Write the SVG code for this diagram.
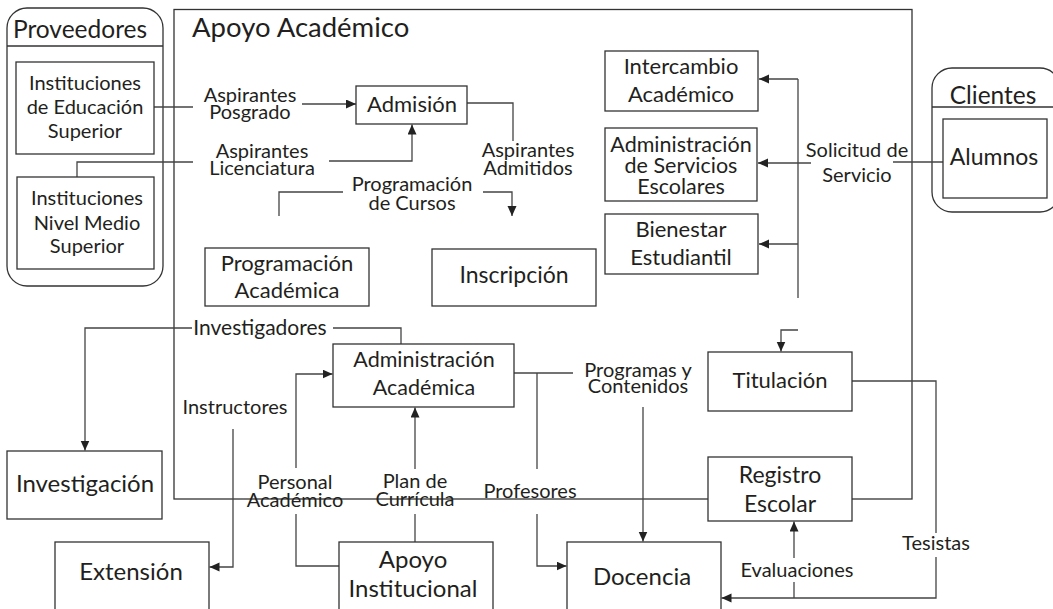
<svg xmlns="http://www.w3.org/2000/svg" width="1053" height="609" viewBox="0 0 1053 609">
<style>
  text { font-family: Lato, "Open Sans", "Liberation Sans", sans-serif; fill: #231f20; }
  .n { font-size: 20px; text-anchor: middle; }
  .n22 { font-size: 22px; text-anchor: middle; }
  .n23 { font-size: 23px; text-anchor: middle; }
  .nb { font-size: 24px; text-anchor: middle; }
  .l { font-size: 20px; text-anchor: middle; }
  .box { fill: #fff; stroke: #333; stroke-width: 1.3; }
  .pool { fill: none; stroke: #333; stroke-width: 1.3; }
  .c { fill: none; stroke: #444; stroke-width: 1.3; }
  .ca { fill: none; stroke: #444; stroke-width: 1.3; marker-end: url(#ah); }
</style>
<defs>
  <marker id="ah" markerUnits="userSpaceOnUse" markerWidth="11" markerHeight="10" refX="10" refY="4.5" orient="auto">
    <path d="M0,0 L10,4.5 L0,9 z" fill="#222"/>
  </marker>
</defs>
<rect width="1053" height="609" fill="#fff"/>

<g id="apoyo-academico">
  <rect class="pool" x="174" y="9.5" width="738" height="489.5"/>
  <text x="192" y="37" style="font-size:27.5px">Apoyo Académico</text>
</g>

<g id="proveedores">
  <rect class="pool" x="7" y="8" width="156" height="278" rx="20"/>
  <line class="pool" x1="7" y1="46" x2="163" y2="46"/>
  <text x="80" y="38" style="font-size:24.5px;text-anchor:middle">Proveedores</text>
</g>

<g id="clientes">
  <rect class="pool" x="932" y="68" width="128" height="144" rx="20"/>
  <line class="pool" x1="932" y1="107" x2="1053" y2="107"/>
  <text x="993" y="104" style="font-size:24.5px;text-anchor:middle">Clientes</text>
</g>

<g id="connectors">
  <!-- Aspirantes Posgrado -->
  <line class="c" x1="154" y1="107" x2="193" y2="107"/>
  <line class="ca" x1="302" y1="104" x2="356" y2="104"/>
  <!-- Aspirantes Licenciatura -->
  <polyline class="c" points="77,177 77,162 193,162"/>
  <polyline class="ca" points="329,161 412,161 412,124.5"/>
  <!-- Aspirantes Admitidos -->
  <polyline class="c" points="467,103 513,103 513,141"/>
  <!-- Programacion de Cursos -->
  <polyline class="c" points="279,216 279,192 343,192"/>
  <polyline class="ca" points="483,192 512,192 512,216"/>
  <!-- Solicitud de Servicio -->
  <line class="c" x1="798" y1="79" x2="798" y2="298"/>
  <line class="ca" x1="798" y1="79" x2="759" y2="79"/>
  <line class="ca" x1="811" y1="163" x2="758" y2="163"/>
  <line class="ca" x1="798" y1="244" x2="759" y2="244"/>
  <line class="c" x1="893" y1="162" x2="943" y2="162"/>
  <!-- Titulacion hook -->
  <polyline class="ca" points="798,330 781,330 781,351.5"/>
  <!-- Investigadores -->
  <polyline class="ca" points="192,328 85,328 85,450.5"/>
  <polyline class="c" points="333,328 401,328 401,344"/>
  <!-- Instructores -->
  <polyline class="ca" points="233,429 233,567 209.5,567"/>
  <!-- Personal Academico -->
  <polyline class="ca" points="296,468 296,374 332.5,374"/>
  <polyline class="c" points="296,514 296,566 339,566"/>
  <!-- Plan de Curricula -->
  <line class="ca" x1="415" y1="469" x2="415" y2="407.5"/>
  <line class="c" x1="415" y1="514" x2="415" y2="542"/>
  <!-- Programas y Contenidos / Profesores -->
  <line class="c" x1="514" y1="373" x2="573" y2="373"/>
  <line class="c" x1="537" y1="373" x2="537" y2="469"/>
  <polyline class="ca" points="537,514 537,566 566.5,566"/>
  <line class="ca" x1="643" y1="407" x2="643" y2="541.5"/>
  <!-- Tesistas -->
  <polyline class="c" points="852,381 936,381 936,533"/>
  <polyline class="ca" points="936,557 936,598 721.5,598"/>
  <!-- Evaluaciones -->
  <line class="ca" x1="794" y1="558" x2="794" y2="521.5"/>
  <line class="c" x1="794" y1="582" x2="794" y2="598"/>
</g>

<g id="instituciones-educacion-superior">
  <rect class="box" x="16" y="62" width="138" height="92"/>
  <text class="n" x="85" y="90">Instituciones</text>
  <text class="n" x="85" y="114">de Educación</text>
  <text class="n" x="85" y="138">Superior</text>
</g>

<g id="instituciones-nivel-medio-superior">
  <rect class="box" x="17" y="177" width="137" height="92"/>
  <text class="n" x="87" y="205">Instituciones</text>
  <text class="n" x="87" y="230">Nivel Medio</text>
  <text class="n" x="87" y="253">Superior</text>
</g>

<g id="admision">
  <rect class="box" x="356" y="86" width="111" height="38"/>
  <text class="n22" x="412" y="112">Admisión</text>
</g>

<g id="programacion-academica">
  <rect class="box" x="205" y="248" width="164" height="58"/>
  <text class="n22" x="287" y="271">Programación</text>
  <text class="n22" x="287" y="298">Académica</text>
</g>

<g id="inscripcion">
  <rect class="box" x="432" y="249" width="164" height="57"/>
  <text class="n23" x="514" y="283">Inscripción</text>
</g>

<g id="intercambio-academico">
  <rect class="box" x="605" y="51" width="153" height="60"/>
  <text class="n22" x="681" y="74">Intercambio</text>
  <text class="n22" x="681" y="102">Académico</text>
</g>

<g id="administracion-servicios-escolares">
  <rect class="box" x="605" y="128" width="152" height="73"/>
  <text class="n" x="681" y="152" style="font-size:21.5px">Administración</text>
  <text class="n" x="681" y="173" style="font-size:21.5px">de Servicios</text>
  <text class="n" x="681" y="194" style="font-size:21.5px">Escolares</text>
</g>

<g id="bienestar-estudiantil">
  <rect class="box" x="605" y="214" width="153" height="60"/>
  <text class="n22" x="681" y="237">Bienestar</text>
  <text class="n22" x="681" y="265">Estudiantil</text>
</g>

<g id="alumnos">
  <rect class="box" x="943" y="119" width="104" height="79"/>
  <text class="n23" x="994" y="165">Alumnos</text>
</g>

<g id="administracion-academica">
  <rect class="box" x="333" y="344" width="181" height="63"/>
  <text class="n" x="424" y="367" style="font-size:21.5px">Administración</text>
  <text class="n" x="424" y="395" style="font-size:21.5px">Académica</text>
</g>

<g id="titulacion">
  <rect class="box" x="708" y="352" width="144" height="59"/>
  <text class="n22" x="780" y="388">Titulación</text>
</g>

<g id="registro-escolar">
  <rect class="box" x="708" y="457" width="144" height="64"/>
  <text class="n23" x="780" y="483">Registro</text>
  <text class="n23" x="780" y="512">Escolar</text>
</g>

<g id="investigacion">
  <rect class="box" x="7" y="451" width="155" height="68"/>
  <text class="nb" x="85" y="492">Investigación</text>
</g>

<g id="extension">
  <rect class="box" x="55" y="542" width="154" height="80"/>
  <text class="nb" x="131" y="580">Extensión</text>
</g>

<g id="apoyo-institucional">
  <rect class="box" x="339" y="542" width="154" height="80"/>
  <text class="nb" x="413" y="568">Apoyo</text>
  <text class="nb" x="413" y="597">Institucional</text>
</g>

<g id="docencia">
  <rect class="box" x="567" y="542" width="154" height="80"/>
  <text class="nb" x="642" y="585">Docencia</text>
</g>

<g id="labels">
  <text class="l" x="250" y="102">Aspirantes</text>
  <text class="l" x="250" y="119">Posgrado</text>
  <text class="l" x="262" y="158">Aspirantes</text>
  <text class="l" x="262" y="175">Licenciatura</text>
  <text class="l" x="528" y="157">Aspirantes</text>
  <text class="l" x="528" y="175">Admitidos</text>
  <text class="l" x="412" y="191">Programación</text>
  <text class="l" x="412" y="210">de Cursos</text>
  <text class="l" x="857" y="157">Solicitud de</text>
  <text class="l" x="857" y="182">Servicio</text>
  <text class="l" x="260" y="335" style="font-size:21px">Investigadores</text>
  <text class="l" x="235" y="414">Instructores</text>
  <text class="l" x="295" y="489">Personal</text>
  <text class="l" x="295" y="507">Académico</text>
  <text class="l" x="415" y="488">Plan de</text>
  <text class="l" x="415" y="506">Currícula</text>
  <text class="l" x="530" y="498">Profesores</text>
  <text class="l" x="638" y="377">Programas y</text>
  <text class="l" x="638" y="393">Contenidos</text>
  <text class="l" x="936" y="550">Tesistas</text>
  <text class="l" x="797" y="577">Evaluaciones</text>
</g>
</svg>
